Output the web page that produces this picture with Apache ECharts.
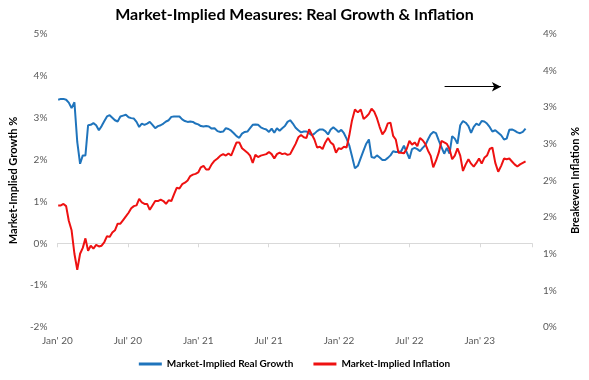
<!DOCTYPE html>
<html>
<head>
<meta charset="utf-8">
<script src="https://cdn.jsdelivr.net/npm/echarts@6/dist/echarts.min.js"></script>
<style>
html,body{margin:0;padding:0;background:#fff;}
#chart{width:589px;height:380px;}
</style>
</head>
<body>
<div id="chart"></div>
<script>
// Weekly observations starting Fri 3 Jan 2020
const startDateUTC = Date.UTC(2020, 0, 3);

// Market-Implied Real Growth (%), left axis
const growth = [
  3.43,3.45,3.45,3.43,3.36,3.23,3.37,2.42,1.90,2.10,
  2.10,2.82,2.83,2.87,2.82,2.70,2.80,2.92,3.03,3.06,
  3.00,2.94,2.91,3.03,3.05,3.07,3.01,2.99,2.98,2.90,
  2.78,2.86,2.83,2.86,2.90,2.83,2.75,2.80,2.82,2.86,
  2.91,2.94,3.02,3.03,3.03,3.03,2.96,2.92,2.90,2.91,
  2.90,2.86,2.84,2.80,2.79,2.80,2.79,2.74,2.75,2.68,
  2.66,2.67,2.75,2.73,2.69,2.63,2.56,2.52,2.62,2.66,
  2.67,2.75,2.83,2.84,2.83,2.77,2.74,2.72,2.66,2.74,
  2.64,2.75,2.69,2.75,2.80,2.90,2.94,2.86,2.76,2.70,
  2.65,2.67,2.67,2.63,2.58,2.62,2.68,2.72,2.72,2.68,
  2.60,2.72,2.77,2.72,2.66,2.71,2.63,2.50,2.34,2.08,
  1.79,1.85,2.04,2.22,2.38,2.48,2.06,2.04,2.10,2.05,
  1.99,1.99,2.04,2.10,2.20,2.18,2.18,2.20,2.33,2.18,
  2.02,2.25,2.28,2.25,2.20,2.28,2.34,2.48,2.60,2.66,
  2.63,2.46,2.30,2.14,2.28,2.14,2.56,2.50,2.38,2.82,
  2.92,2.88,2.80,2.64,2.78,2.86,2.82,2.92,2.91,2.86,
  2.78,2.67,2.70,2.64,2.58,2.48,2.50,2.71,2.72,2.69,
  2.65,2.63,2.66,2.74
];

// Market-Implied Inflation (breakeven, %), right axis
const inflation = [
  1.66,1.66,1.68,1.65,1.45,1.32,1.00,0.78,1.00,1.08,
  1.21,1.04,1.11,1.07,1.12,1.10,1.11,1.16,1.24,1.23,
  1.29,1.32,1.41,1.41,1.46,1.51,1.56,1.62,1.65,1.66,
  1.75,1.70,1.68,1.68,1.60,1.66,1.72,1.72,1.74,1.72,
  1.68,1.73,1.72,1.81,1.90,1.89,1.95,1.97,2.00,2.06,
  2.08,2.09,2.11,2.18,2.20,2.15,2.15,2.22,2.27,2.30,
  2.34,2.36,2.34,2.37,2.34,2.43,2.52,2.52,2.44,2.41,
  2.38,2.34,2.24,2.35,2.32,2.34,2.35,2.36,2.39,2.36,
  2.30,2.36,2.38,2.36,2.37,2.35,2.36,2.43,2.50,2.59,
  2.62,2.59,2.58,2.70,2.63,2.56,2.45,2.46,2.43,2.52,
  2.58,2.52,2.49,2.38,2.44,2.43,2.46,2.45,2.61,2.82,
  2.97,2.93,2.97,2.84,2.87,2.91,2.98,2.94,2.85,2.73,
  2.63,2.68,2.78,2.79,2.61,2.56,2.38,2.38,2.37,2.43,
  2.54,2.49,2.52,2.47,2.58,2.55,2.50,2.41,2.34,2.18,
  2.27,2.38,2.54,2.52,2.50,2.43,2.29,2.34,2.44,2.34,
  2.13,2.22,2.29,2.23,2.19,2.24,2.30,2.23,2.31,2.34,
  2.43,2.45,2.24,2.12,2.20,2.30,2.29,2.30,2.26,2.22,
  2.19,2.22,2.24,2.26
];

// X tick labels every 6 months from Jan 2020
const xTickLabels = ["Jan' 20", "Jul' 20", "Jan' 21", "Jul' 21", "Jan' 22", "Jul' 22", "Jan' 23"];

const seriesNames = ['Market-Implied Real Growth', 'Market-Implied Inflation'];

// Annotation arrow (in data coordinates: months since Jan 2020, left-axis %)
const arrowFrom = [33.0, 3.74];
const arrowTo = [37.8, 3.74];

function toMonths(d) {
  const y = d.getUTCFullYear(), m = d.getUTCMonth(), day = d.getUTCDate();
  const dim = new Date(Date.UTC(y, m + 1, 0)).getUTCDate();
  return (y - 2020) * 12 + m + (day - 1) / dim;
}
const xs = growth.map((_, i) => toMonths(new Date(startDateUTC + i * 7 * 86400000)));

const FONT = 'Lato, "Open Sans", sans-serif';
const chart = echarts.init(document.getElementById('chart'), null, {renderer: 'canvas'});
chart.setOption({
  backgroundColor: '#ffffff',
  animation: false,
  title: {
    text: 'Market-Implied Measures: Real Growth & Inflation',
    left: 'center', top: 2,
    textStyle: {fontFamily: FONT, fontSize: 16, fontWeight: 'bold', color: '#000'}
  },
  legend: {
    bottom: 6, left: 'center',
    itemWidth: 23, itemHeight: 3, itemGap: 20,
    icon: 'rect',
    textStyle: {fontFamily: FONT, fontSize: 10, fontWeight: 'bold', color: '#000'},
    data: seriesNames
  },
  grid: {left: 52, right: 47, top: 34, bottom: 53, containLabel: false},
  xAxis: [
    {
      type: 'value', min: 0, max: 40.45, interval: 6,
      axisLine: {onZero: true, lineStyle: {color: '#d9d9d9', width: 1}},
      axisTick: {show: true, length: 4, lineStyle: {color: '#d9d9d9'}},
      axisLabel: {show: false},
      splitLine: {show: false}
    },
    {
      type: 'value', min: 0, max: 40.45, interval: 6, position: 'bottom',
      axisLine: {show: false, onZero: false},
      axisTick: {show: false},
      splitLine: {show: false},
      axisLabel: {
        show: true, margin: 9, showMaxLabel: false,
        fontFamily: FONT, fontSize: 10, color: '#595959',
        formatter: v => xTickLabels[Math.round(v / 6)] || ''
      }
    }
  ],
  yAxis: [
    {
      type: 'value', min: -2, max: 5, interval: 1,
      name: 'Market-Implied Growth %', nameLocation: 'middle', nameGap: 37, nameRotate: 90,
      nameTextStyle: {fontFamily: FONT, fontSize: 11, fontWeight: 'bold', color: '#000'},
      axisLine: {show: false}, axisTick: {show: false}, splitLine: {show: false},
      axisLabel: {fontFamily: FONT, fontSize: 10, color: '#595959', margin: 10, formatter: v => v + '%'}
    },
    {
      type: 'value', min: 0, max: 4, interval: 0.5, position: 'right',
      name: 'Breakeven Inflation %', nameLocation: 'middle', nameGap: 38, nameRotate: 90,
      nameTextStyle: {fontFamily: FONT, fontSize: 11, fontWeight: 'bold', color: '#000'},
      axisLine: {show: false}, axisTick: {show: false}, splitLine: {show: false},
      axisLabel: {fontFamily: FONT, fontSize: 10, color: '#595959', margin: 11, formatter: v => Math.round(v) + '%'}
    }
  ],
  series: [
    {
      name: seriesNames[0], type: 'line', xAxisIndex: 0, yAxisIndex: 0,
      data: growth.map((v, i) => [xs[i], v]),
      showSymbol: false, symbol: 'none',
      lineStyle: {color: '#1f74bc', width: 2}, itemStyle: {color: '#1f74bc'},
      markLine: {
        silent: true, symbol: ['none', 'arrow'], symbolSize: [7, 9],
        label: {show: false},
        lineStyle: {color: '#000', width: 1.2, type: 'solid'},
        data: [[{coord: arrowFrom}, {coord: arrowTo}]]
      }
    },
    {
      name: seriesNames[1], type: 'line', xAxisIndex: 0, yAxisIndex: 1,
      data: inflation.map((v, i) => [xs[i], v]),
      showSymbol: false, symbol: 'none',
      lineStyle: {color: '#ee1111', width: 2}, itemStyle: {color: '#ee1111'}
    }
  ]
});
</script>
</body>
</html>
